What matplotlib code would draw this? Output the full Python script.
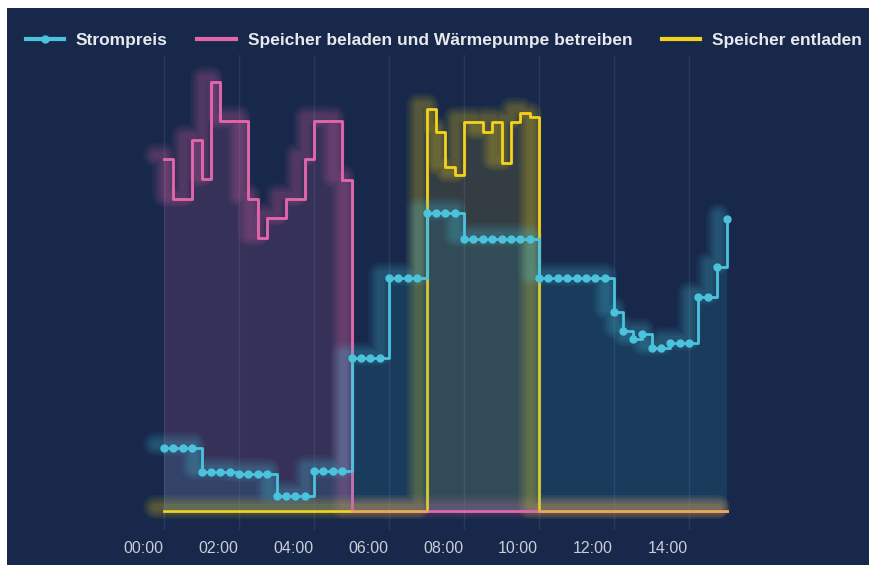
import numpy as np
import matplotlib
matplotlib.use("Agg")
import matplotlib.pyplot as plt
from matplotlib.patches import Rectangle
from matplotlib.transforms import ScaledTranslation

plt.rcParams['font.family'] = ['Liberation Sans', 'DejaVu Sans']

# Zeit in Stunden (Viertelstundenraster)
zeit = np.arange(61) * 0.25

# Strompreis (ct/kWh)
strompreis = [5.25, 5.25, 5.25, 5.25,
              3.25, 3.25, 3.25, 3.25,
              3.05, 3.05, 3.05, 3.05,
              1.25, 1.25, 1.25, 1.25,
              3.33, 3.33, 3.33, 3.33,
              12.75, 12.75, 12.75, 12.75,
              19.42, 19.42, 19.42, 19.42,
              24.83, 24.83, 24.83, 24.83,
              22.67, 22.67, 22.67, 22.67, 22.67, 22.67, 22.67, 22.67,
              19.42, 19.42, 19.42, 19.42, 19.42, 19.42, 19.42, 19.42,
              16.58, 15.0, 14.33, 14.75, 13.58, 13.58, 14.0, 14.0, 14.0,
              17.83, 17.83, 20.33, 24.33]

# Speicher beladen und Wärmepumpe betreiben (kW)
beladen = [7.04, 6.24, 6.24, 7.42, 6.64, 8.58, 7.8, 7.8, 7.8, 6.24,
           5.46, 5.86, 5.86, 6.24, 6.24, 7.04, 7.8, 7.8, 7.8, 6.62] + [0.0] * 41

# Speicher entladen (kW)
entladen = [0.0] * 28 + [8.04, 7.58, 6.88, 6.72, 7.78, 7.78, 7.58, 7.78,
                         6.96, 7.78, 7.96, 7.88] + [0.0] * 21

tick_pos = [0, 2, 4, 6, 8, 10, 12, 14]
tick_labels = ['00:00', '02:00', '04:00', '06:00', '08:00', '10:00', '12:00', '14:00']

bg = '#17284a'
c_preis = '#4cc3dc'
c_pink = '#e466aa'
c_gelb = '#f6d21a'

fig = plt.figure(figsize=(8.72, 5.65), dpi=100)
fig.patch.set_facecolor('white')
fig.patches.append(Rectangle((7 / 872, 0), 862 / 872, 557 / 565, transform=fig.transFigure,
                             facecolor=bg, edgecolor='none', zorder=-10))

ax = fig.add_axes([130 / 872, 35 / 565, 615 / 872, 475 / 565])
ax2 = ax.twinx()
for a in (ax, ax2):
    a.set_facecolor('none')
    for s in a.spines.values():
        s.set_visible(False)
    a.set_yticks([])

glow_shift = ScaledTranslation(-9 / 100, 4 / 100, fig.dpi_scale_trans)


def glow(a, y, color):
    # weicher Schein, leicht nach links oben versetzt
    tr = a.transData + glow_shift
    for lw in [17, 14, 11, 8, 5]:
        a.plot(zeit, y, drawstyle='steps-post', color=color, lw=lw, alpha=0.065,
               solid_capstyle='round', solid_joinstyle='round', transform=tr, zorder=2)


# Leistung
ax.fill_between(zeit, beladen, 0, step='post', color=c_pink, alpha=0.15, lw=0, zorder=1)
ax.fill_between(zeit, entladen, 0, step='post', color=c_gelb, alpha=0.13, lw=0, zorder=1)
glow(ax, beladen, c_pink)
glow(ax, entladen, c_gelb)
ax.plot(zeit, beladen, drawstyle='steps-post', color=c_pink, lw=2, zorder=4,
        label='Speicher beladen und Wärmepumpe betreiben')
ax.plot(zeit, entladen, drawstyle='steps-post', color=c_gelb, lw=2, zorder=5,
        label='Speicher entladen')
# halbtransparente Lage darüber, damit sich die Nulllinien mischen
ax.plot(zeit, beladen, drawstyle='steps-post', color=c_pink, lw=2, alpha=0.4, zorder=6)

# Strompreis
ax2.fill_between(zeit, strompreis, 0, step='post', color='#2aa8c8', alpha=0.15, lw=0, zorder=1)
glow(ax2, strompreis, c_preis)
ax2.plot(zeit, strompreis, drawstyle='steps-post', color=c_preis, lw=2, marker='o',
         markersize=5, zorder=5, label='Strompreis')

ax.set_xlim(-0.907, 15.493)
ax.set_ylim(-0.38, 9.12)
ax2.set_ylim(-1.583, 38.0)

ax.set_xticks(tick_pos)
ax.set_xticklabels(tick_labels, color='#c9cdd6', fontsize=11.5)
ax.tick_params(axis='x', length=0, pad=8)
label_shift = ScaledTranslation(-21 / 100, 0, fig.dpi_scale_trans)
for lbl in ax.get_xticklabels():
    lbl.set_transform(lbl.get_transform() + label_shift)
ax.grid(True, axis='x', color='#28385d', lw=1)
ax.set_axisbelow(True)

h1, l1 = ax2.get_legend_handles_labels()
h2, l2 = ax.get_legend_handles_labels()
leg = fig.legend(h1 + h2, l1 + l2, loc='center', bbox_to_anchor=(0.509, 0.929), ncol=3,
                 frameon=False, handlelength=2.2, handletextpad=0.7, columnspacing=1.7,
                 prop={'weight': 'bold', 'size': 12.5})
for t in leg.get_texts():
    t.set_color('#e8e9ee')
for lh in leg.get_lines():
    lh.set_linewidth(3)
    lh.set_alpha(1)

fig.savefig('out.png', dpi=100)
